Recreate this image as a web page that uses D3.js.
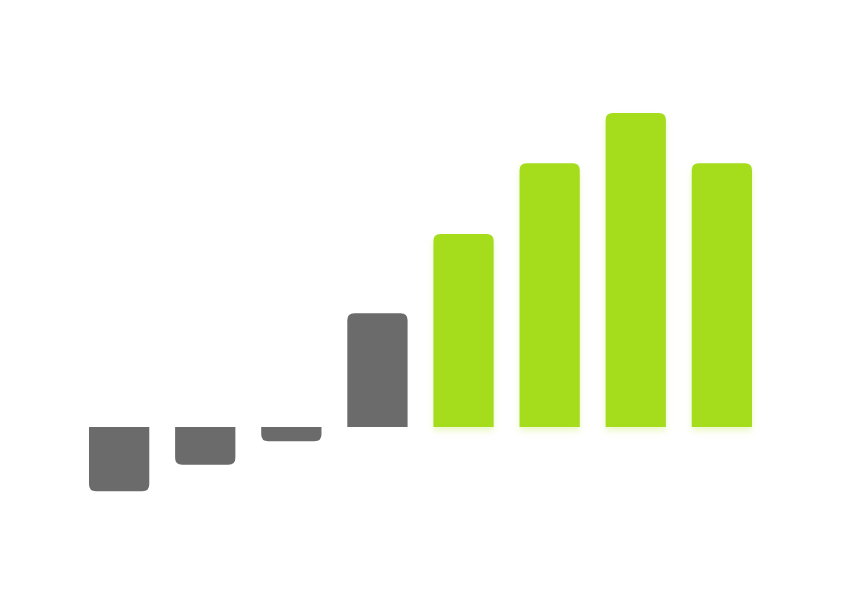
<!DOCTYPE html>
<html><head><meta charset="utf-8">
<script src="https://cdn.jsdelivr.net/npm/d3@7"></script>
<style>html,body{margin:0;padding:0;background:#fff;}svg{display:block;}</style>
</head><body>
<svg id="chart" width="850" height="600"></svg>
<script>
const categories = ["1","2","3","4","5","6","7","8"];
const values = [-2.05, -1.2, -0.45, 3.62, 6.15, 8.4, 10, 8.4];
const colors = ["#6b6b6b","#6b6b6b","#6b6b6b","#6b6b6b","#a5dc1b","#a5dc1b","#a5dc1b","#a5dc1b"];

const svg = d3.select("#chart");
const x = d3.scaleBand().domain(categories).range([89, 752]).paddingInner(0.3).paddingOuter(0);
const y = d3.scaleLinear().domain([0, 10]).range([427, 113]);

const defs = svg.append("defs");
const fg = defs.append("filter").attr("id","glowG").attr("x","-20%").attr("y","-20%").attr("width","140%").attr("height","140%");
fg.append("feDropShadow").attr("dx",0).attr("dy",4).attr("stdDeviation",3).attr("flood-color","#d2f080").attr("flood-opacity",0.45);

function barPath(d, i) {
  const x0 = x(categories[i]), w = x.bandwidth();
  const yb = y(0), yt = y(d);
  const h = Math.abs(yt - yb);
  const r = Math.min(7, h / 2, w / 2);
  if (d >= 0) {
    return `M${x0},${yb}L${x0},${yt + r}Q${x0},${yt} ${x0 + r},${yt}L${x0 + w - r},${yt}Q${x0 + w},${yt} ${x0 + w},${yt + r}L${x0 + w},${yb}Z`;
  } else {
    return `M${x0},${yb}L${x0},${yt - r}Q${x0},${yt} ${x0 + r},${yt}L${x0 + w - r},${yt}Q${x0 + w},${yt} ${x0 + w},${yt - r}L${x0 + w},${yb}Z`;
  }
}

svg.append("g").selectAll("path").data(values).join("path")
  .attr("d", (d, i) => barPath(d, i))
  .attr("fill", (d, i) => colors[i])
  .attr("filter", (d, i) => i >= 4 ? "url(#glowG)" : null);
</script>
</body></html>
